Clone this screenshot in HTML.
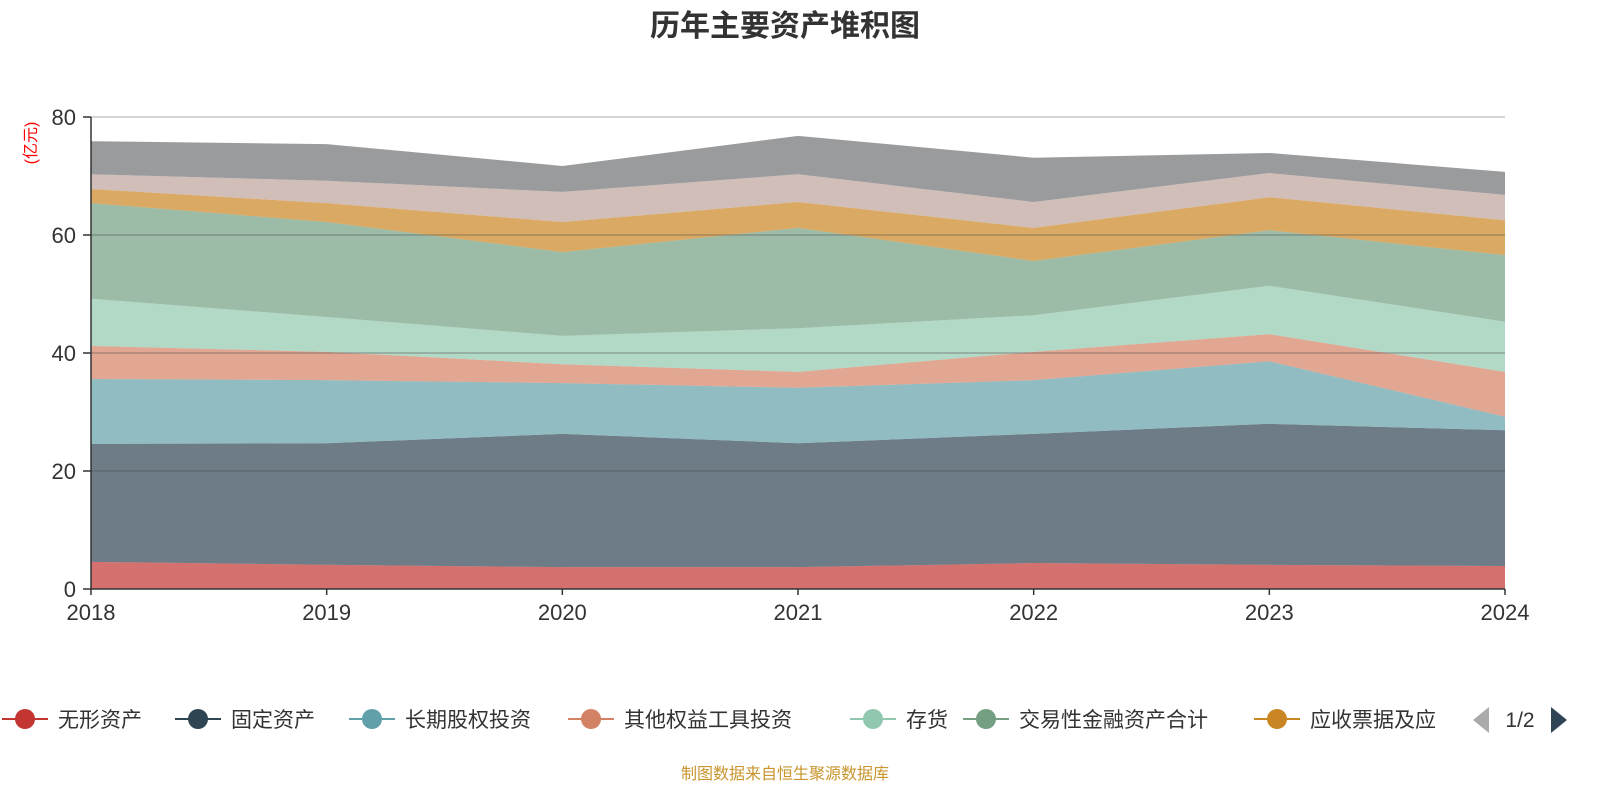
<!DOCTYPE html>
<html><head><meta charset="utf-8">
<style>
body{margin:0;background:#fff;}
svg{display:block;font-family:"Liberation Sans","Noto Sans CJK SC",sans-serif;}
</style></head>
<body>
<svg id="chart" width="1600" height="800">
<text x="785" y="36" text-anchor="middle" font-size="30" font-weight="bold" fill="#333">历年主要资产堆积图</text>
<text transform="translate(36,143) rotate(-90)" text-anchor="middle" font-size="16" fill="#ff0000">(亿元)</text>
<g id="areas"></g>
<g id="grid"></g>
<g id="axes"></g>
<g id="legend"></g>
<text x="785" y="779" text-anchor="middle" font-size="16" fill="#c9952c">制图数据来自恒生聚源数据库</text>
</svg>
<script>
const years = ["2018","2019","2020","2021","2022","2023","2024"];
const seriesNames = ["无形资产","固定资产","长期股权投资","其他权益工具投资","存货","交易性金融资产合计","应收票据及应收账款","其他资产","货币资金"];
const s1 = [4.6,4.1,3.7,3.7,4.4,4.1,3.9];
const s2 = [20.0,20.6,22.6,21.0,21.9,23.9,23.0];
const s3 = [11.0,10.7,8.6,9.4,9.1,10.6,2.3];
const s4 = [5.6,4.8,3.2,2.7,4.8,4.6,7.6];
const s5 = [8.0,5.9,4.8,7.4,6.2,8.2,8.5];
const s6 = [16.2,16.1,14.2,17.0,9.2,9.4,11.3];
const s7 = [2.4,3.2,5.1,4.4,5.6,5.6,5.9];
const s8 = [2.5,3.8,5.1,4.7,4.4,4.1,4.3];
const s9 = [5.6,6.2,4.4,6.5,7.5,3.4,3.9];
const yTicks = [0,20,40,60,80];
const legendLabels = ["无形资产","固定资产","长期股权投资","其他权益工具投资","存货","交易性金融资产合计","应收票据及应"];

const series=[s1,s2,s3,s4,s5,s6,s7,s8,s9];
const colors=["#c23531","#2f4554","#61a0a8","#d48265","#91c7ae","#749f83","#ca8622","#bda29a","#6e7074"];
const NS="http://www.w3.org/2000/svg";
const X0=91,X1=1505,Y0=589,Y80=117;
const xs=i=>X0+(X1-X0)*i/(years.length-1);
const ys=v=>Y0-(Y0-Y80)*v/80;
function mk(tag,attrs,parent){const e=document.createElementNS(NS,tag);for(const k in attrs)e.setAttribute(k,attrs[k]);parent.appendChild(e);return e;}
const areas=document.getElementById('areas');
let base=years.map(()=>0);
series.forEach((s,si)=>{
  const top=base.map((b,i)=>b+s[i]);
  let d="M"+years.map((_,i)=>xs(i)+","+ys(top[i])).join("L");
  for(let i=years.length-1;i>=0;i--) d+="L"+xs(i)+","+ys(base[i]);
  d+="Z";
  const p=mk('path',{d:d,fill:colors[si],'fill-opacity':0.7},areas);
  
  
  base=top;
});
const grid=document.getElementById('grid');
const axes=document.getElementById('axes');
yTicks.forEach(t=>{
  if(t>0){const l=mk('line',{x1:X0,x2:X1,y1:ys(t),y2:ys(t),stroke:'#444','stroke-opacity':t==80?0.3:0.35,'stroke-width':1.5},grid);
  
  }
  mk('line',{x1:83,x2:X0,y1:ys(t),y2:ys(t),stroke:'#333','stroke-width':1.5},axes);
  const tx=mk('text',{x:76,y:ys(t)+8,'text-anchor':'end','font-size':22,fill:'#333'},axes);
  tx.textContent=t;
  
  
});
mk('line',{x1:X0,x2:X0,y1:Y80,y2:Y0,stroke:'#333','stroke-width':1.5},axes);
mk('line',{x1:X0,x2:X1,y1:Y0,y2:Y0,stroke:'#333','stroke-width':1.5},axes);
years.forEach((y,i)=>{
  mk('line',{x1:xs(i),x2:xs(i),y1:Y0,y2:Y0+6,stroke:'#333','stroke-width':1.5},axes);
  const tx=mk('text',{x:xs(i),y:620,'text-anchor':'middle','font-size':22,fill:'#333'},axes);
  tx.textContent=y;
  
  
});
const lg=document.getElementById('legend');
const iconX=[2,175,349,568,850,963,1254];
legendLabels.forEach((n,i)=>{
  const g=mk('g',{},lg);
  
  
  mk('line',{x1:iconX[i],x2:iconX[i]+46,y1:719,y2:719,stroke:colors[i],'stroke-width':2},g);
  mk('circle',{cx:iconX[i]+23,cy:719,r:10,fill:colors[i]},g);
  const t=mk('text',{x:iconX[i]+56,y:727,'font-size':21,fill:'#333'},g);
  t.textContent=n;
});
const pl=mk('path',{d:'M1489,707 L1489,733 L1473,720 Z',fill:'#aaa'},lg);


const pt=mk('text',{x:1520,y:727,'text-anchor':'middle','font-size':21,fill:'#333'},lg);
pt.textContent='1/2';


const pn=mk('path',{d:'M1551,707 L1551,733 L1567,720 Z',fill:'#2f4554'},lg);


</script>
</body></html>
